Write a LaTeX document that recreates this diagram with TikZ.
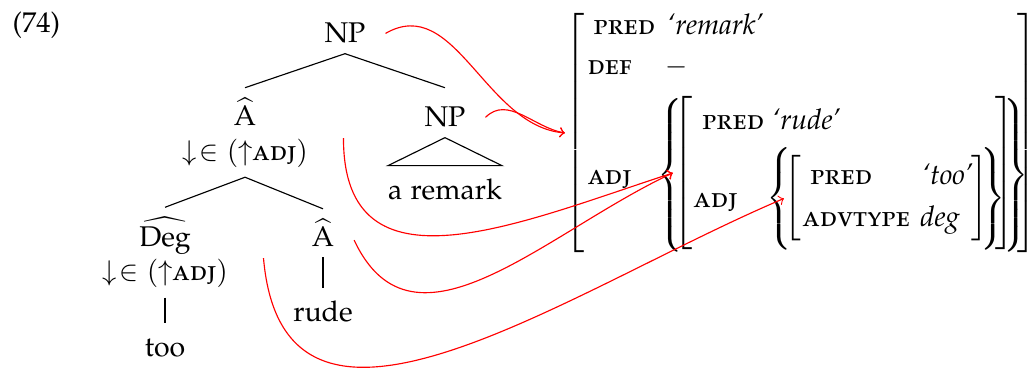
\documentclass[tikz,border=0pt]{standalone}
\usepackage[T1]{fontenc}
\usepackage{palatino}
\renewcommand{\rmdefault}{pplx}
\usetikzlibrary{positioning}
\newcommand{\RudeRemarkUnit}{0.012333}
\newcommand{\fsdelim}[3]{$\nulldelimiterspace=0pt\delimitershortfall=0pt\delimiterfactor=1000\left#1\vcenter{\hbox{\rule{0pt}{#3}}}\right#2$}
\newcommand{\adjdown}{$\downarrow\!{\in}$ $(\uparrow$\textsc{adj}$)$}
\tikzset{
  tnode/.style={align=center},
  leaf/.style={text height=8.2pt},
  fsdel/.style={inner sep=0pt},
  fstext/.style={inner sep=0pt, anchor=base west},
  fslink/.style={red, ->},
}

\begin{document}
\begin{tikzpicture}
  \useasboundingbox (-4.2549,0.5303) rectangle (8.4604,-4.0576);
  % c-structure
  \node[anchor=base] (np) at (0,0) {NP};
  \node[above left=\RudeRemarkUnit*10 cm and \RudeRemarkUnit*333 cm of np.base, anchor=base west, inner sep=0pt] (exnum) {(74)};
  \node[below left=\RudeRemarkUnit*89.5 cm and \RudeRemarkUnit*100 cm of np.base, tnode, anchor=center] (ahat) {$\widehat{\mbox{A}}$\\\adjdown};
  \node[below right=\RudeRemarkUnit*84 cm and \RudeRemarkUnit*100 cm of np.base, anchor=base] (npr) {NP};
  \node[below=\RudeRemarkUnit*73 cm of npr.base, anchor=base] (remark) {a remark};
  \node[below left=\RudeRemarkUnit*120 cm and \RudeRemarkUnit*80 cm of ahat.center, tnode, anchor=center] (deg) {$\widehat{\mbox{Deg}}$\\\adjdown};
  \node[below right=\RudeRemarkUnit*114.5 cm and \RudeRemarkUnit*78 cm of ahat.center, anchor=base] (ahatb) {$\widehat{\mbox{A}}$};
  \node[below=\RudeRemarkUnit*104.5 cm of deg.center, leaf, anchor=base] (too) {too};
  \node[below=\RudeRemarkUnit*75 cm of ahatb.base, leaf, anchor=base] (rude) {rude};
  \draw (np.south) -- (ahat.north);
  \draw (np.south) -- (ahat.north -| npr);
  \draw (ahat.south) -- (deg.north);
  \draw (ahat.south) -- (ahatb.north);
  \draw (deg.south) -- (too.north);
  \draw (ahatb.south) -- (rude.north);
  \draw (npr.south) -- ++({-\RudeRemarkUnit*57},{-\RudeRemarkUnit*28}) -- ++({\RudeRemarkUnit*114},0) -- cycle;
  % f-structure
  \node[below right=\RudeRemarkUnit*90 cm and \RudeRemarkUnit*230 cm of np.base, fsdel, anchor=center] (fsL) {\fsdelim{[}{.}{84pt}};
  \node[right=\RudeRemarkUnit*452 cm of fsL.center, fsdel, anchor=center] (fsR) {\fsdelim{.}{]}{84pt}};
  \node[above right=\RudeRemarkUnit*98 cm and \RudeRemarkUnit*18 cm of fsL.center, fstext] (pred1) {\textsc{pred}};
  \node[right=\RudeRemarkUnit*74 cm of pred1.base west, fstext] (remarkval) {\textit{`remark'}};
  \node[above right=\RudeRemarkUnit*58 cm and \RudeRemarkUnit*12 cm of fsL.center, fstext] (def) {\textsc{def}};
  \node[right=\RudeRemarkUnit*78 cm of def.base west, fstext] (defval) {$-$};
  \node[below right=\RudeRemarkUnit*52 cm and \RudeRemarkUnit*12 cm of fsL.center, fstext] (adj1) {\textsc{adj}};
  \node[below right=\RudeRemarkUnit*42.5 cm and \RudeRemarkUnit*95 cm of fsL.center, fsdel, anchor=center] (adjL) {\fsdelim{\{}{.}{54pt}};
  \node[right=\RudeRemarkUnit*346 cm of adjL.center, fsdel, anchor=center] (adjR) {\fsdelim{.}{\}}{54pt}};
  \node[below right=\RudeRemarkUnit*40 cm and \RudeRemarkUnit*108 cm of fsL.center, fsdel, anchor=center] (rudeL) {\fsdelim{[}{.}{52.6pt}};
  \node[right=\RudeRemarkUnit*322 cm of rudeL.center, fsdel, anchor=center] (rudeR) {\fsdelim{.}{]}{52.6pt}};
  \node[above right=\RudeRemarkUnit*3 cm and \RudeRemarkUnit*127 cm of fsL.center, fstext] (pred2) {\textsc{pred}};
  \node[right=\RudeRemarkUnit*70 cm of pred2.base west, fstext] (rudeval) {\textit{`rude'}};
  \node[below right=\RudeRemarkUnit*75 cm and \RudeRemarkUnit*118 cm of fsL.center, fstext] (adj2) {\textsc{adj}};
  \node[below right=\RudeRemarkUnit*65.5 cm and \RudeRemarkUnit*204 cm of fsL.center, fsdel, anchor=center] (degL) {\fsdelim{\{}{.}{32.6pt}};
  \node[right=\RudeRemarkUnit*214 cm of degL.center, fsdel, anchor=center] (degR) {\fsdelim{.}{\}}{32.6pt}};
  \node[right=\RudeRemarkUnit*14 cm of degL.center, fsdel, anchor=center] (tooL) {\fsdelim{[}{.}{29.1pt}};
  \node[right=\RudeRemarkUnit*187 cm of tooL.center, fsdel, anchor=center] (tooR) {\fsdelim{.}{]}{29.1pt}};
  \node[below right=\RudeRemarkUnit*52 cm and \RudeRemarkUnit*235 cm of fsL.center, fstext] (pred3) {\textsc{pred}};
  \node[right=\RudeRemarkUnit*112 cm of pred3.base west, fstext] (tooval) {\textit{`too'}};
  \node[below right=\RudeRemarkUnit*94 cm and \RudeRemarkUnit*227 cm of fsL.center, fstext] (advtype) {\textsc{advtype}};
  \node[right=\RudeRemarkUnit*118 cm of advtype.base west, fstext] (degval) {\textit{deg}};
  % correspondences
  \draw[fslink] ([xshift=3.5pt]np.east) to[out=30, in=175] (fsL.west);
  \draw[fslink] ([xshift=3.5pt]npr.east) to[out=45, in=170] (fsL.west);
  \draw[fslink] ([shift={(9pt,-2pt)}]ahat.east) to[out=-90, in=198, looseness=1.25] (rudeL.west);
  \draw[fslink] ([shift={(3.5pt,-2.5pt)}]ahatb.east) to[out=-65, in=205, looseness=1.1] (rudeL.west);
  \draw[fslink] ([shift={(9pt,-2pt)}]deg.east) to[out=-85, in=203, looseness=1.15] (tooL.west);
\end{tikzpicture}
\end{document}
